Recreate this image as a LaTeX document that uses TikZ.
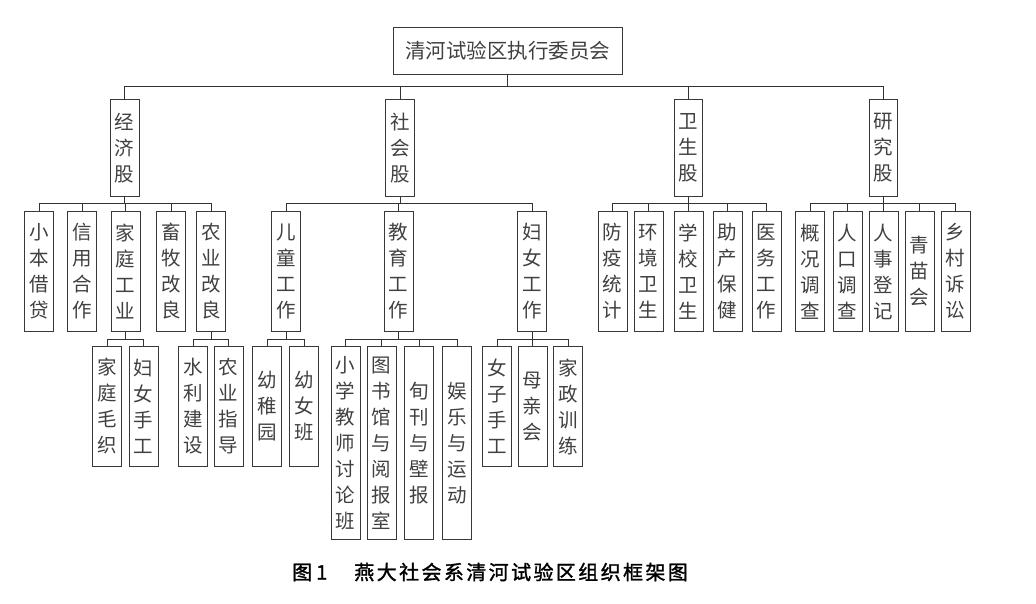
\documentclass[tikz,border=0pt]{standalone}
\usepackage{fontspec}
\setmainfont{Noto Sans CJK SC}
\newfontfamily\capfont[FakeBold=1.5,LetterSpace=12]{Noto Sans CJK SC}
\tikzset{
  box/.style={draw=black!78, line width=1pt, inner sep=0pt, minimum width=29pt,
    anchor=north, align=center, font=\fontsize{19.5}{26}\selectfont, text=black!75},
  lvone/.style={box, minimum height=97pt},
  lvtwo/.style={box, minimum height=120pt},
  lvlong/.style={box, minimum height=193pt},
  link/.style={draw=black!80, line width=0.9pt},
}
\begin{document}
\begin{tikzpicture}[x=1pt,y=-1pt]
\useasboundingbox (0,0) rectangle (1036,603);
% top
\node[box, minimum width=229pt, minimum height=47pt, anchor=center, font=\fontsize{20.5}{26}\selectfont] (top) at (507.5,50.5) {清河试验区执行委员会};
% level 1
\node[lvone] (jj) at (124.5,99) {经\\济\\股};
\node[lvone] (sh) at (400,99) {社\\会\\股};
\node[lvone, minimum width=28pt] (ws) at (688,99) {卫\\生\\股};
\node[lvone, minimum width=28pt] (yj) at (883,99) {研\\究\\股};
% level 2
\node[lvtwo] (xb) at (39,211) {小\\本\\借\\贷};
\node[lvtwo] (xy) at (82,211) {信\\用\\合\\作};
\node[lvtwo] (jt) at (125.5,211) {家\\庭\\工\\业};
\node[lvtwo] (xm) at (171,211) {畜\\牧\\改\\良};
\node[lvtwo] (ny) at (211,211) {农\\业\\改\\良};
\node[lvtwo] (et) at (286,211) {儿\\童\\工\\作};
\node[lvtwo] (jy) at (398.5,211) {教\\育\\工\\作};
\node[lvtwo] (fn) at (532,211) {妇\\女\\工\\作};
\node[lvtwo] (fy) at (612.5,211) {防\\疫\\统\\计};
\node[lvtwo] (hj) at (648.5,211) {环\\境\\卫\\生};
\node[lvtwo] (xx) at (688.5,211) {学\\校\\卫\\生};
\node[lvtwo] (zc) at (727.5,211) {助\\产\\保\\健};
\node[lvtwo] (yw) at (766.5,211) {医\\务\\工\\作};
\node[lvtwo] (gk) at (810,211) {概\\况\\调\\查};
\node[lvtwo] (rk) at (847.5,211) {人\\口\\调\\查};
\node[lvtwo] (rs) at (883.5,211) {人\\事\\登\\记};
\node[lvtwo] (qm) at (919.5,211) {青\\苗\\会};
\node[lvtwo] (xc) at (955.5,211) {乡\\村\\诉\\讼};
% level 3
\node[lvtwo] (jm) at (107,346) {家\\庭\\毛\\织};
\node[lvtwo] (fs) at (143.5,346) {妇\\女\\手\\工};
\node[lvtwo] (sl) at (193,346) {水\\利\\建\\设};
\node[lvtwo] (nz) at (228.5,346) {农\\业\\指\\导};
\node[lvtwo] (yz) at (267,346) {幼\\稚\\园};
\node[lvtwo] (yn) at (304,346) {幼\\女\\班};
\node[lvlong] (xj) at (345.5,346) {小\\学\\教\\师\\讨\\论\\班};
\node[lvlong] (ts) at (381.5,346) {图\\书\\馆\\与\\阅\\报\\室};
\node[lvlong] (xk) at (419,346) {旬\\刊\\与\\壁\\报};
\node[lvlong] (yl) at (457,346) {娱\\乐\\与\\运\\动};
\node[lvtwo] (nzs) at (497,346) {女\\子\\手\\工};
\node[lvtwo] (mq) at (532.5,346) {母\\亲\\会};
\node[lvtwo] (jz) at (568,346) {家\\政\\训\\练};
% connectors
\foreach \c in {jj,sh,ws,yj} \draw[link] (top.south) -- ++(0,12) -| (\c.north);
\foreach \c in {xb,xy,jt,xm,ny} \draw[link] (jj.south) -- ++(0,6) -| (\c.north);
\foreach \c in {et,jy,fn} \draw[link] (sh.south) -- ++(0,6) -| (\c.north);
\foreach \c in {fy,hj,xx,zc,yw} \draw[link] (ws.south) -- ++(0,6) -| (\c.north);
\foreach \c in {gk,rk,rs,qm,xc} \draw[link] (yj.south) -- ++(0,6) -| (\c.north);
\foreach \c in {jm,fs} \draw[link] (jt.south) -- ++(0,7) -| (\c.north);
\foreach \c in {sl,nz} \draw[link] (ny.south) -- ++(0,7) -| (\c.north);
\foreach \c in {yz,yn} \draw[link] (et.south) -- ++(0,7) -| (\c.north);
\foreach \c in {xj,ts,xk,yl} \draw[link] (jy.south) -- ++(0,7) -| (\c.north);
\foreach \c in {nzs,mq,jz} \draw[link] (fn.south) -- ++(0,7) -| (\c.north);
% caption
\node[anchor=west, inner sep=0pt, font=\capfont\fontsize{20}{24}\selectfont] (cap) at (292,572) {图\hspace{4pt}1\hspace{27pt}燕大社会系清河试验区组织框架图};
\end{tikzpicture}
\end{document}
